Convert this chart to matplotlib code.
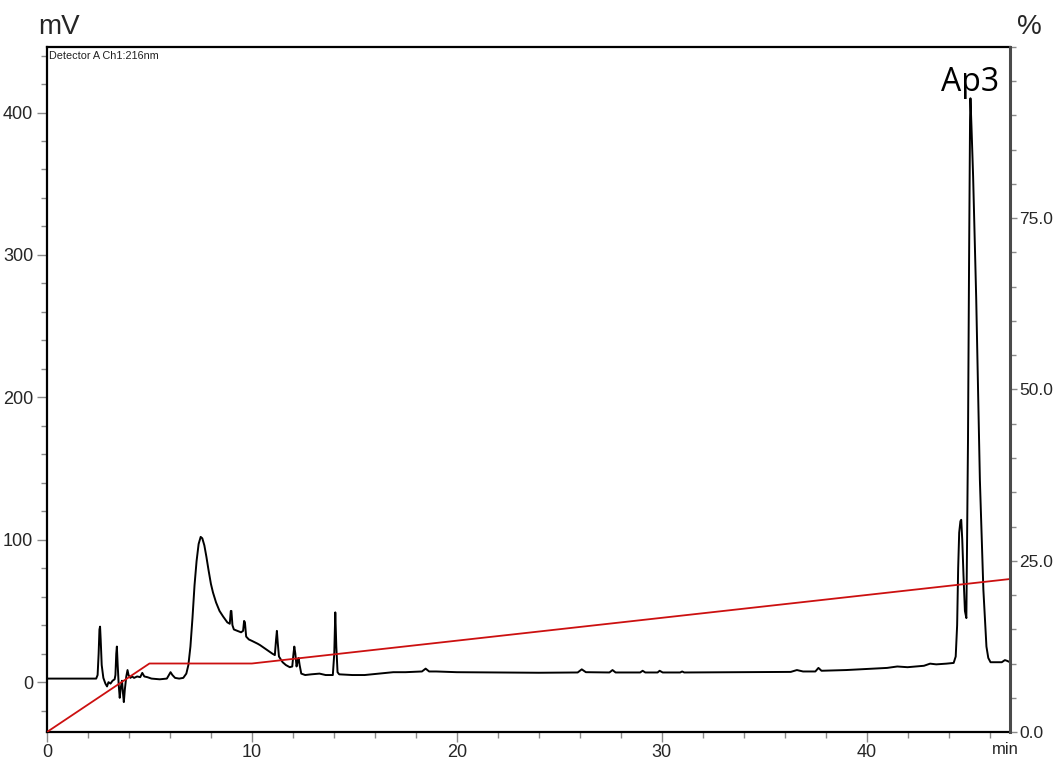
import matplotlib
matplotlib.use("Agg")
import matplotlib.pyplot as plt
from matplotlib.ticker import MultipleLocator

# Detector A trace (216 nm): retention time in min, signal in mV
trace_min = [
    0.0, 2.30, 2.40, 2.47, 2.52, 2.56, 2.59, 2.62, 2.67, 2.75, 2.85, 2.93, 3.00, 3.10, 3.20, 3.30,
    3.34, 3.38, 3.41, 3.45, 3.50, 3.55, 3.60, 3.66, 3.71, 3.75, 3.80, 3.87, 3.93, 3.98, 4.07, 4.15,
    4.25, 4.40, 4.55, 4.65, 4.75, 4.90, 5.10, 5.50, 5.85, 5.95, 6.03, 6.12, 6.25, 6.45, 6.65, 6.80,
    6.90, 7.00, 7.10, 7.20, 7.30, 7.40, 7.50, 7.58, 7.68, 7.78, 7.88, 8.00, 8.10, 8.25, 8.42, 8.60,
    8.80, 8.92, 8.97, 9.00, 9.05, 9.12, 9.30, 9.47, 9.57, 9.62, 9.66, 9.72, 9.85, 10.00, 10.28, 10.40,
    10.70, 11.00, 11.12, 11.18, 11.22, 11.26, 11.32, 11.50, 11.66, 11.85, 11.97, 12.03, 12.07, 12.12,
    12.18, 12.24, 12.28, 12.33, 12.41, 12.60, 12.90, 13.30, 13.60, 13.95, 14.02, 14.07, 14.12, 14.18,
    14.26, 14.90, 15.50, 16.20, 16.90, 17.50, 18.30, 18.48, 18.65, 19.00, 20.00, 22.00, 24.00, 25.90,
    26.10, 26.30, 27.45, 27.60, 27.75, 28.95, 29.07, 29.20, 29.80, 29.90, 30.05, 30.90, 31.00, 31.10,
    34.00, 36.30, 36.60, 36.90, 37.50, 37.65, 37.80, 39.00, 41.00, 41.50, 42.00, 42.80, 43.10, 43.40,
    43.90, 44.25, 44.35, 44.42, 44.47, 44.52, 44.58, 44.62, 44.67, 44.73, 44.80, 44.87, 44.90, 44.95,
    45.00, 45.05, 45.07, 45.12, 45.20, 45.35, 45.53, 45.70, 45.85, 45.94, 46.05, 46.30, 46.60, 46.75,
    46.85, 47.00,
]
trace_mv = [
    2.5, 2.5, 2.5, 5, 20, 37, 39, 30, 12, 3, -1, -3, 0, -1, 1, 2,
    5, 20, 25, 12, -2, -11, -4, 1, -8, -14, -5, 4, 8.5, 5, 3, 4,
    3, 4, 3.5, 6.5, 4, 3.5, 2.5, 2, 2.5, 5, 7, 5, 3, 2.5, 3, 6,
    12, 25, 45, 68, 85, 97, 102, 101, 96, 88, 79, 69, 63, 56, 50, 46,
    42, 41, 50, 50, 40, 37, 36, 35, 36, 43, 42, 32, 30, 29, 27, 26,
    23, 20, 19, 30, 36, 28, 18, 14, 12, 10.5, 11, 20, 25, 20,
    11, 15, 17, 12, 6, 5, 5.5, 6, 5, 5, 20, 49, 25, 7,
    5.5, 5, 5, 6, 7, 7, 7.5, 9.5, 7.5, 7.5, 7, 6.8, 6.6, 6.8,
    9, 7, 6.8, 8.5, 6.8, 6.8, 8, 6.8, 6.8, 8, 6.8, 6.8, 7.5, 6.8,
    7, 7.2, 8.5, 7.5, 7.5, 10, 8, 8.5, 10, 11, 10.5, 11.5, 13, 12.5,
    13, 13.5, 18, 40, 80, 105, 113, 114, 100, 75, 50, 45, 90, 170,
    290, 395, 410, 390, 355, 270, 142, 65, 25, 17, 14, 14, 14, 15.5,
    15, 14,
]

# Pump B gradient program (%)
gradient_min = [0, 5, 10, 55]
gradient_pct = [0, 10, 10, 25]

peak_label = "Ap3"
peak_label_pos = (45.05, 415)

sans = ["Liberation Sans", "DejaVu Sans"]
tick_color = "#8a8a8a"
label_color = "#262626"

fig = plt.figure(figsize=(10.55, 7.61), dpi=100)
ax = fig.add_axes([47 / 1055, 29 / 761, 963 / 1055, 685 / 761])
ax2 = ax.twinx()

ax.plot(trace_min, trace_mv, color="black", lw=1.4, solid_joinstyle="round")
ax2.plot(gradient_min, gradient_pct, color="#cc1010", lw=1.3)

ax.set_xlim(0, 47)
ax.set_ylim(-35, 446)
ax2.set_ylim(0, 100)

ax.set_xticks([0, 10, 20, 30, 40])
ax.xaxis.set_minor_locator(MultipleLocator(2))
ax.set_yticks([0, 100, 200, 300, 400])
ax.yaxis.set_minor_locator(MultipleLocator(20))
ax2.set_yticks([0, 25, 50, 75])
ax2.set_yticklabels(["0.0", "25.0", "50.0", "75.0"])
ax2.yaxis.set_minor_locator(MultipleLocator(5))

for a in (ax, ax2):
    a.tick_params(which="major", direction="out", length=7, width=1,
                  color=tick_color, labelcolor=label_color, labelsize=13, pad=3)
    a.tick_params(which="minor", direction="out", length=4, width=1, color=tick_color)
    for lab in a.get_xticklabels() + a.get_yticklabels():
        lab.set_family(sans)
ax.tick_params(axis="x", which="major", pad=1.5)
ax2.tick_params(which="major", length=5, pad=1.5, labelsize=12.5)

for side in ("left", "bottom", "top"):
    ax.spines[side].set_linewidth(1.6)
    ax.spines[side].set_color("black")
ax.spines["right"].set_visible(False)
for side in ("left", "bottom", "top"):
    ax2.spines[side].set_visible(False)
ax2.spines["right"].set_linewidth(2.2)
ax2.spines["right"].set_color("#4a4a4a")

ax.text(*peak_label_pos, peak_label, ha="center", va="baseline",
        fontsize=23, family=["Open Sans", "DejaVu Sans"])
ax.text(0.002, 0.994, "Detector A Ch1:216nm", transform=ax.transAxes,
        ha="left", va="top", fontsize=7.8, family=sans, color="#222222")

fig.text(59 / 1055, 1 - 27 / 761, "mV", ha="center", va="center",
         fontsize=20, family=sans, color=label_color)
fig.text(1029 / 1055, 1 - 27 / 761, "%", ha="center", va="center",
         fontsize=20, family=sans, color=label_color)
fig.text(1005 / 1055, 1 - 750 / 761, "min", ha="center", va="center",
         fontsize=12, family=sans, color=label_color)

fig.savefig("out.png", dpi=100)
